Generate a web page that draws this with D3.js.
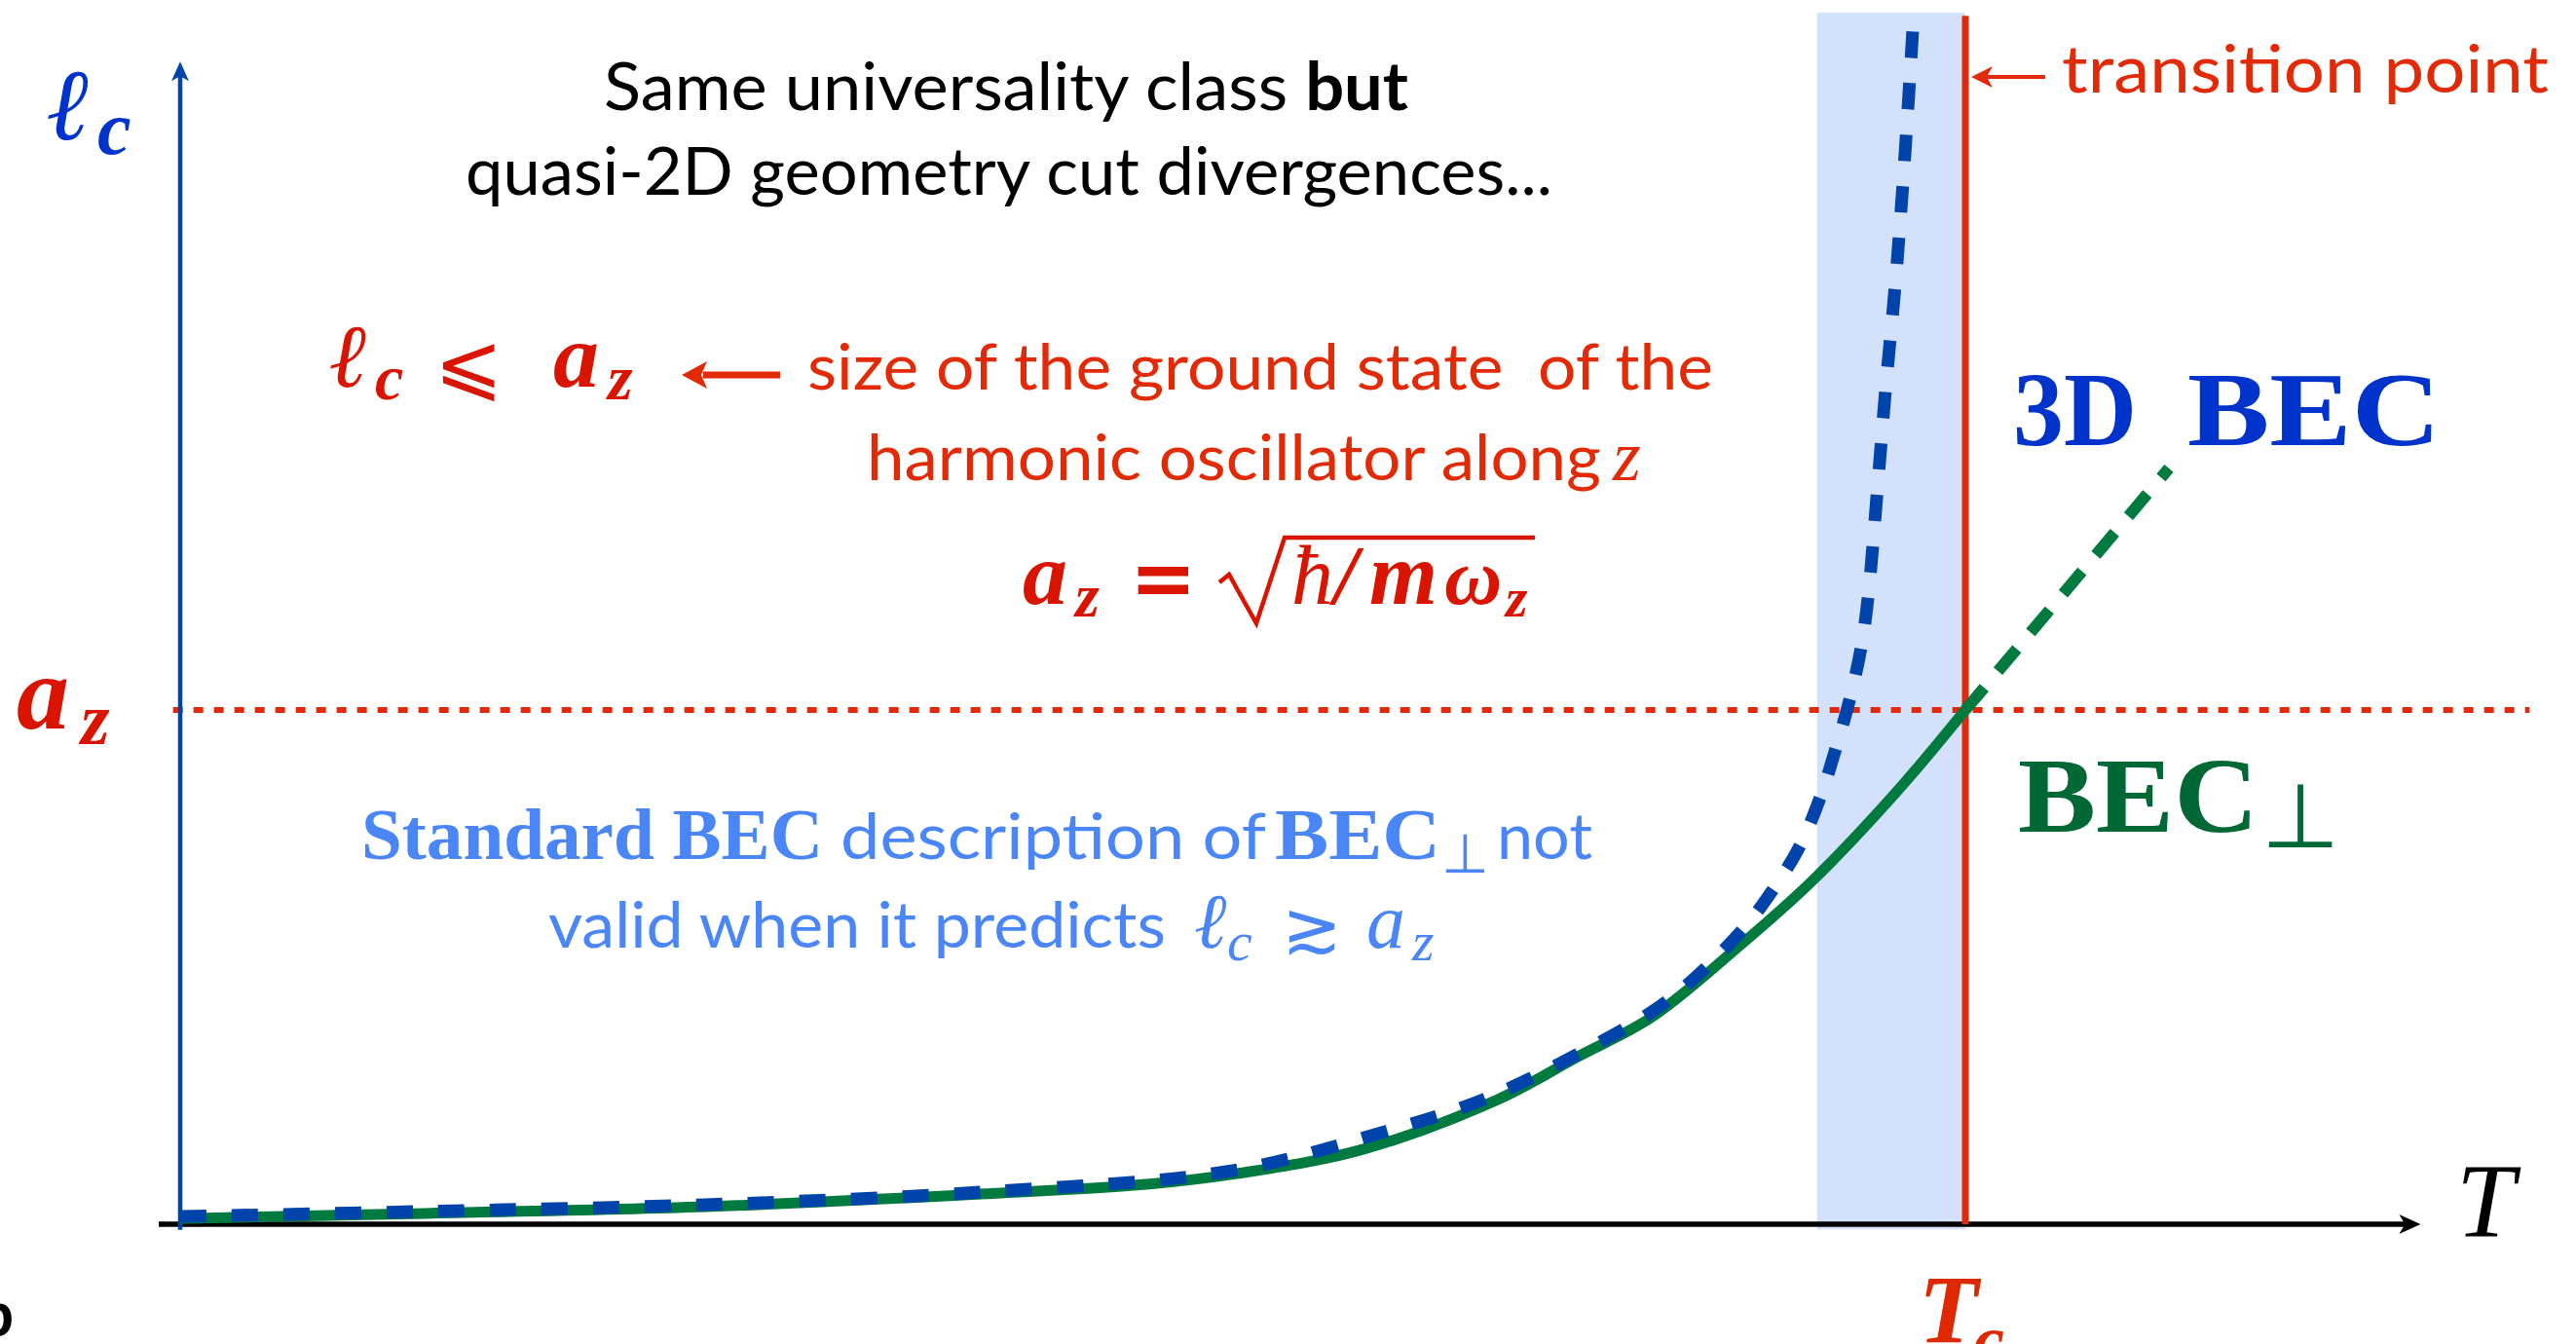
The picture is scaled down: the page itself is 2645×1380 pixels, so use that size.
<!DOCTYPE html>
<html>
<head>
<meta charset="utf-8">
<script src="https://cdn.jsdelivr.net/npm/d3@7"></script>
<style>
  body { margin: 0; background: #fff; }
  svg { display: block; }
  text { white-space: pre; }
</style>
</head>
<body>
<div id="chart"></div>
<script>
/*
*   Correlation length l_c against temperature T for a quasi-2D Bose gas.
*   T is in units of Tc, l_c in units of a_z.
*/

// green solid curve: BEC_perp
var greenT = [0, 0.137, 0.294, 0.451, 0.543, 0.595, 0.663, 0.739, 0.783, 0.824, 0.873, 0.914, 0.963, 1.0];
var greenL = [0.011, 0.021, 0.034, 0.059, 0.078, 0.100, 0.146, 0.244, 0.326, 0.402, 0.540, 0.667, 0.847, 1.0];
// green dashed continuation above Tc
var greenExtT = [1.0, 1.114];
var greenExtL = [1.0, 1.470];
// blue dashed: 3D BEC, diverging close to Tc
var blueT = [0, 0.137, 0.294, 0.451, 0.589, 0.673, 0.729, 0.783, 0.833, 0.8745, 0.8925, 0.9072, 0.9187, 0.9269, 0.9351, 0.9416, 0.9454, 0.9514, 0.9553, 0.9607, 0.9651, 0.9689, 0.9711];
var blueL = [0.015, 0.025, 0.038, 0.063, 0.104, 0.178, 0.241, 0.331, 0.434, 0.570, 0.652, 0.735, 0.830, 0.919, 1.019, 1.121, 1.216, 1.458, 1.623, 1.826, 2.027, 2.229, 2.356];
// shaded critical region, transition point and a_z level
var bandT = [0.917, 1.0];
var tc = 1.0;
var az = 1.0;
// axis extents
var xAxisT = [-0.012, 1.255];
var yAxisL = [-0.011, 2.261];
var azLineT = [-0.004, 1.316];
var topL = 2.356;

var W = 2645, H = 1380;

var svg = d3.select("#chart")
  .append("svg")
  .attr("width", W)
  .attr("height", H)
  .style("background", "#fff");

var x = d3.scaleLinear().domain([0, 1]).range([185, 2018]);
var y = d3.scaleLinear().domain([0, 1]).range([1257, 729]);

var red = "#e2290b", redText = "#e22a06", redMath = "#d91400";
var blue = "#0043aa", green = "#007a3e", lightBlue = "#4a86f7";

//Shaded critical region
svg.append("rect")
  .attr("x", x(bandT[0]))
  .attr("y", y(topL))
  .attr("width", x(bandT[1]) - x(bandT[0]))
  .attr("height", y(-0.01) - y(topL))
  .attr("fill", "#d3e1fa");

//a_z dotted level
svg.append("line")
  .attr("x1", x(azLineT[0])).attr("x2", x(azLineT[1]))
  .attr("y1", y(az)).attr("y2", y(az))
  .attr("stroke", red).attr("stroke-width", 6)
  .attr("stroke-dasharray", "10 11");

//Axes
svg.append("line")
  .attr("x1", x(xAxisT[0])).attr("x2", x(xAxisT[1]) - 12)
  .attr("y1", y(0)).attr("y2", y(0))
  .attr("stroke", "#000").attr("stroke-width", 5.5);
svg.append("path")
  .attr("d", `M${x(xAxisT[1])},${y(0)} L${x(xAxisT[1]) - 22},${y(0) - 10} L${x(xAxisT[1]) - 16},${y(0)} L${x(xAxisT[1]) - 22},${y(0) + 10}Z`)
  .attr("fill", "#000");

svg.append("line")
  .attr("x1", x(0)).attr("x2", x(0))
  .attr("y1", y(yAxisL[0])).attr("y2", y(yAxisL[1]) + 12)
  .attr("stroke", blue).attr("stroke-width", 4.5);
svg.append("path")
  .attr("d", `M${x(0)},${y(yAxisL[1])} L${x(0) - 9},${y(yAxisL[1]) + 20} L${x(0)},${y(yAxisL[1]) + 15} L${x(0) + 9},${y(yAxisL[1]) + 20}Z`)
  .attr("fill", blue);

//Transition point
svg.append("line")
  .attr("x1", x(tc)).attr("x2", x(tc))
  .attr("y1", y(2.350)).attr("y2", y(0))
  .attr("stroke", red).attr("stroke-width", 7);

//Curves
var line = d3.line()
  .x(d => x(d[0]))
  .y(d => y(d[1]))
  .curve(d3.curveCatmullRom);

svg.append("path")
  .datum(d3.zip(greenT, greenL))
  .attr("d", line)
  .attr("fill", "none")
  .attr("stroke", green).attr("stroke-width", 11);

svg.append("path")
  .datum(d3.zip(greenExtT, greenExtL))
  .attr("d", line)
  .attr("fill", "none")
  .attr("stroke", green).attr("stroke-width", 12)
  .attr("stroke-dasharray", "30 22");

svg.append("path")
  .datum(d3.zip(blueT, blueL))
  .attr("d", line)
  .attr("fill", "none")
  .attr("stroke", blue).attr("stroke-width", 13)
  .attr("stroke-dasharray", "27 26");

//Text helper
var sans = "Lato, 'Open Sans', sans-serif";
var serif = "'Liberation Serif', 'DejaVu Serif', serif";
var symb = "'DejaVu Sans', sans-serif";

function label(xp, yp, str, o) {
  var t = svg.append("text")
    .attr("x", xp).attr("y", yp)
    .attr("fill", o.fill || "#000")
    .style("font-family", o.font || sans)
    .style("font-size", (o.size || 66) + "px")
    .style("font-weight", o.weight || "normal")
    .style("font-style", o.style || "normal")
    .text(str);
  if (o.anchor) t.attr("text-anchor", o.anchor);
  if (o.len) t.attr("textLength", o.len).attr("lengthAdjust", "spacingAndGlyphs");
  return t;
}

//Axis labels
label(49, 143, "ℓ", {fill: "#0033cc", font: serif, size: 104, weight: "bold", style: "italic"});
label(100, 158, "c", {fill: "#0033cc", font: serif, size: 78, weight: "bold", style: "italic"});
label(17, 748, "a", {fill: redMath, font: serif, size: 108, weight: "bold", style: "italic"});
label(83, 764, "z", {fill: redMath, font: serif, size: 76, weight: "bold", style: "italic"});
label(2522, 1269, "T", {fill: "#000", font: serif, size: 108, style: "italic"});
label(1970, 1378, "T", {fill: "#e02800", font: serif, size: 100, weight: "bold", style: "italic"});
label(2026, 1400, "c", {fill: "#e02800", font: serif, size: 72, weight: "bold", style: "italic"});
label(14, 1372, "b", {fill: "#000", size: 64, weight: "bold", anchor: "end"});

//Top title
var t1 = label(620, 113, "Same universality class ", {size: 68, len: 826});
t1.append("tspan").style("font-weight", "bold").text("but");
label(478, 200, "quasi-2D geometry cut divergences...", {size: 68, len: 1116});

//Transition point annotation
label(2117, 95, "transition point", {fill: redText, size: 68, len: 500});
svg.append("line")
  .attr("x1", 2100).attr("x2", 2040).attr("y1", 79).attr("y2", 79)
  .attr("stroke", red).attr("stroke-width", 4);
svg.append("path")
  .attr("d", "M2024,79 L2046,68 L2040,79 L2046,90Z")
  .attr("fill", red);

//l_c <= a_z annotation
label(339, 397, "ℓ", {fill: redMath, font: serif, size: 92, weight: "bold", style: "italic"});
label(385, 410, "c", {fill: redMath, font: serif, size: 66, weight: "bold", style: "italic"});
label(446, 402, "⩽", {fill: redMath, font: symb, size: 84});
label(568, 397, "a", {fill: redMath, font: serif, size: 94, weight: "bold", style: "italic"});
label(624, 410, "z", {fill: redMath, font: serif, size: 66, weight: "bold", style: "italic"});
svg.append("line")
  .attr("x1", 801).attr("x2", 722).attr("y1", 385).attr("y2", 385)
  .attr("stroke", redText).attr("stroke-width", 7);
svg.append("path")
  .attr("d", "M700,385 L726,371 L720,385 L726,399Z")
  .attr("fill", redText);
label(829, 400, "size of the ground state  of the", {fill: redText, size: 66, len: 930});
label(890, 493, "harmonic oscillator along", {fill: redText, size: 66, len: 754});
label(1656, 493, "z", {fill: redText, font: serif, size: 74, style: "italic"});

//a_z = sqrt(hbar / m omega_z)
label(1050, 620, "a", {fill: redMath, font: serif, size: 92, weight: "bold", style: "italic"});
label(1104, 633, "z", {fill: redMath, font: serif, size: 64, weight: "bold", style: "italic"});
label(1160, 622, "=", {fill: redMath, font: symb, size: 82, weight: "bold"});
svg.append("path")
  .attr("d", "M1252,598 L1262,590 L1290,640 L1319,552 L1576,552")
  .attr("fill", "none")
  .attr("stroke", redMath).attr("stroke-width", 4.5)
  .attr("stroke-linejoin", "miter");
label(1326, 620, "ħ", {fill: redMath, font: serif, size: 86, style: "italic"});
label(1370, 620, "/", {fill: redMath, font: serif, size: 86, weight: "bold", style: "italic"});
label(1406, 620, "m", {fill: redMath, font: serif, size: 90, weight: "bold", style: "italic"});
label(1483, 620, "ω", {fill: redMath, font: serif, size: 82, weight: "bold", style: "italic"});
label(1546, 633, "z", {fill: redMath, font: serif, size: 58, weight: "bold", style: "italic"});

//Standard BEC description not valid...
label(371, 882, "Standard BEC", {fill: lightBlue, font: serif, size: 74, weight: "bold", len: 474});
label(863, 882, "description of", {fill: lightBlue, size: 66, len: 437});
label(1309, 882, "BEC", {fill: lightBlue, font: serif, size: 74, weight: "bold", len: 170});
label(1480, 896, "⊥", {fill: lightBlue, font: symb, size: 56});
label(1537, 882, "not", {fill: lightBlue, size: 66, len: 98});
label(563, 973, "valid when it predicts", {fill: lightBlue, size: 66, len: 634});
label(1226, 973, "ℓ", {fill: lightBlue, font: serif, size: 80, style: "italic"});
label(1260, 986, "c", {fill: lightBlue, font: serif, size: 58, style: "italic"});
label(1316, 978, "≳", {fill: lightBlue, font: symb, size: 74});
label(1403, 973, "a", {fill: lightBlue, font: serif, size: 80, style: "italic"});
label(1450, 986, "z", {fill: lightBlue, font: serif, size: 58, style: "italic"});

//Curve labels
label(2067, 457, "3D", {fill: "#0033cc", font: serif, size: 108, weight: "bold", len: 127});
label(2246, 457, "BEC", {fill: "#0033cc", font: serif, size: 108, weight: "bold", len: 260});
label(2072, 854, "BEC", {fill: "#006835", font: serif, size: 110, weight: "bold", len: 247});
label(2322, 870, "⊥", {fill: "#006835", font: symb, size: 92});
</script>
</body>
</html>
